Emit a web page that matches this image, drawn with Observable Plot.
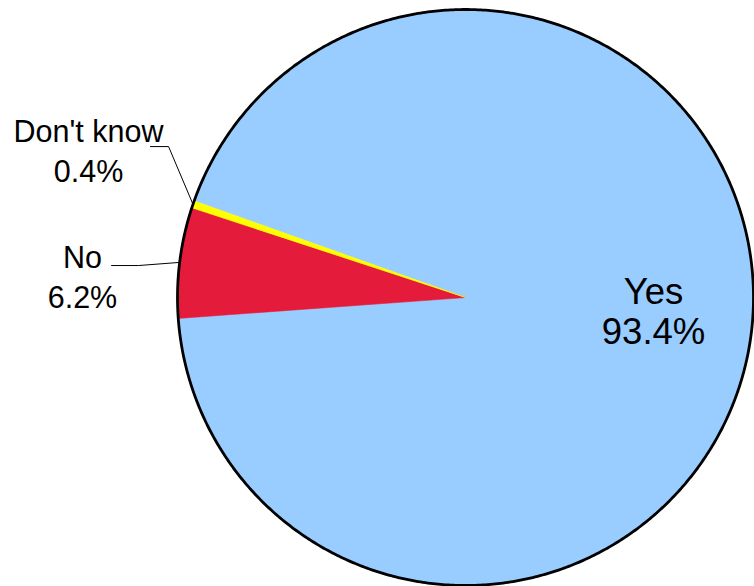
<!DOCTYPE html>
<html><head><meta charset="utf-8">
<script src="https://cdn.jsdelivr.net/npm/d3@7"></script>
<script src="https://cdn.jsdelivr.net/npm/@observablehq/plot@0.6"></script>
<style>html,body{margin:0;padding:0;background:#fff;overflow:hidden}</style>
</head><body><div id="chart"></div>
<script>
// ---- data ----
const categories = ["Yes", "No", "Don't know"];
const values = [93.4, 6.2, 0.4];
const valueLabels = ["93.4%", "6.2%", "0.4%"];
const colors = ["#99CCFF", "#E41B3A", "#FFFF00"];

// ---- layout (unit-circle coordinates) ----
const W = 754, H = 586;
const cx = 465, cy = 297, R = 288;
const firstSliceDeg = 289.6; // clockwise from 12 o'clock
const labelPos = {"Yes": [0.653, -0.048], "No": [-1.33, 0.076], "Don't know": [-1.309, 0.515]};
const leaderLayout = {"No": [[-1.229, 0.111], [-1.135, 0.111]], "Don't know": [[-1.094, 0.524], [-1.031, 0.524]]};

const rad = d => d * Math.PI / 180;
const table = categories.map((c, i) => ({cat: c, value: values[i], label: valueLabels[i]}));
const arcs = d3.pie().sort(null).value(d => d.value)
  .startAngle(rad(firstSliceDeg)).endAngle(rad(firstSliceDeg + 360))(table);

// slice polygons
const slicePts = [];
for (const a of arcs) {
  const n = Math.max(2, Math.ceil((a.endAngle - a.startAngle) / rad(0.25)));
  slicePts.push({cat: a.data.cat, x: 0, y: 0});
  for (let k = 0; k <= n; k++) {
    const t = a.startAngle + (a.endAngle - a.startAngle) * k / n;
    slicePts.push({cat: a.data.cat, x: Math.sin(t), y: Math.cos(t)});
  }
  slicePts.push({cat: a.data.cat, x: 0, y: 0});
}
// outline circle
const outline = d3.range(0, 361, 0.5).map(d => ({x: Math.sin(rad(d)), y: Math.cos(rad(d))}));

// leader lines
const leaders = [];
for (const a of arcs) {
  const L = leaderLayout[a.data.cat];
  if (!L) continue;
  const m = (a.startAngle + a.endAngle) / 2;
  leaders.push({cat: a.data.cat, x: L[0][0], y: L[0][1]});
  leaders.push({cat: a.data.cat, x: L[1][0], y: L[1][1]});
  leaders.push({cat: a.data.cat, x: Math.sin(m), y: Math.cos(m)});
}

const labels = table.map(d => ({cat: d.cat, text: d.cat + "\n" + d.label, x: labelPos[d.cat][0], y: labelPos[d.cat][1]}));
const font = "'Liberation Sans', Arial, sans-serif";

const chart = Plot.plot({
  width: W, height: H, margin: 0,
  x: {domain: [-1, 1], range: [cx - R, cx + R], axis: null},
  y: {domain: [-1, 1], range: [cy + R, cy - R], axis: null},
  color: {domain: categories, range: colors},
  style: {background: "white", fontFamily: font},
  marks: [
    Plot.line(slicePts, {x: "x", y: "y", z: "cat", fill: "cat", stroke: "cat", strokeWidth: 0.6, curve: "linear"}),
    Plot.line(outline, {x: "x", y: "y", stroke: "black", strokeWidth: 2.8, fill: "none"}),
    Plot.line(leaders, {x: "x", y: "y", z: "cat", stroke: "black", strokeWidth: 1}),
    Plot.text(labels.filter(d => d.cat === "Yes"), {x: "x", y: "y", text: "text", fontSize: 36.5, lineHeight: 1.1, fill: "black", textAnchor: "middle", fontFamily: font}),
    Plot.text(labels.filter(d => d.cat !== "Yes"), {x: "x", y: "y", text: "text", fontSize: 30.5, lineHeight: 1.31, fill: "black", textAnchor: "middle", fontFamily: font})
  ]
});
document.getElementById("chart").appendChild(chart);
</script>
</body></html>
